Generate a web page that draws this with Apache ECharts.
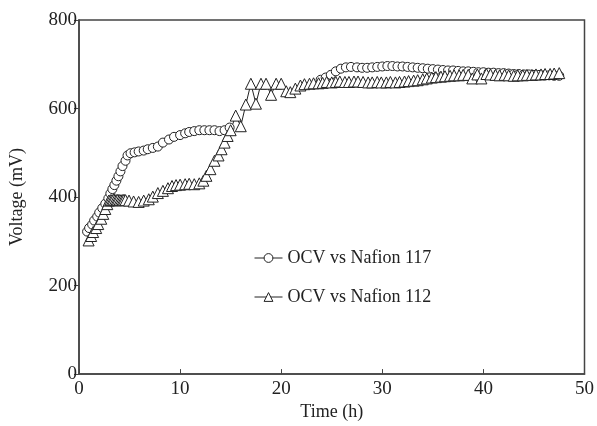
<!DOCTYPE html>
<html>
<head>
<meta charset="utf-8">
<script src="https://cdn.jsdelivr.net/npm/echarts@6/dist/echarts.min.js"></script>
<style>
  html, body { margin: 0; padding: 0; background: #fff; }
  #chart { width: 597px; height: 426px; }
</style>
</head>
<body>
<div id="chart"></div>
<script>
// OCV vs Nafion 117 (circles), null = gap in the measurement
var n117Time = [0.8, 1.0, 1.3, 1.5, 1.8, 2.0, 2.3, 2.6, 2.9, 3.1, 3.3, 3.5, 3.7, 3.9, 4.1, 4.3, 4.6, 4.8,
    5.1, 5.5, 5.9, 6.4, 6.8, 7.3, 7.8, 8.3, 8.9, 9.4, 10.0, 10.5, 10.9, 11.4, 11.9, 12.4, 12.9, 13.4, 13.9,
    14.4, 14.9, 19.0, 23.9, 24.4, 24.9, 25.4, 25.9, 26.4, 26.9, 27.5, 28.0, 28.5, 29.0, 29.5, 30.0, 30.5,
    31.0, 31.5, 32.0, 32.5, 33.0, 33.5, 34.0, 34.5, 35.0, 35.5, 36.0, 36.5, 37.0, 37.5, 38.0, 38.5, 39.0,
    39.5, 40.0, 40.5, 41.0, 41.5, 42.0, 42.5, 43.0, 43.5, 44.0, 44.5, 45.0, 45.5, 46.0, 46.5, 47.0, 47.5];
var n117Volt = [322, 330, 338, 347, 356, 365, 375, 385, 397, 408, 418, 427, 437, 447, 458, 470, 482, 494,
    499, 501, 503, 505, 508, 511, 514, 523, 530, 536, 540, 544, 547, 549, 551, 551, 551, 551, 549,
    551, 557, null, 665, 670, 676, 684, 690, 693, 694, 693, 692, 692, 693, 694, 695, 696,
    696, 695, 695, 694, 693, 692, 691, 690, 689, 688, 687, 686, 686, 685, 684, 684, 683,
    682, 682, 681, 681, 680, 680, 679, 678, 678, 677, 677, 676, 676, 675, 675, 674, 674];

// OCV vs Nafion 112 (triangles)
var n112Time = [0.95, 1.2, 1.4, 1.7, 1.9, 2.2, 2.4, 2.6, 2.8, 2.95, 3.1, 3.25, 3.4, 3.55, 3.7, 3.85, 4.0,
    4.15, 4.3, 4.45, 4.6, 4.95, 5.4, 5.9, 6.4, 6.9, 7.3, 7.8, 8.3, 8.8, 9.2, 9.6, 10.0, 10.5, 10.9, 11.4,
    11.9, 12.3, 12.6, 13.0, 13.4, 13.8, 14.1, 14.4, 14.7, 15.0, 15.5, 16.0, 16.5, 17.0, 17.5, 18.0, 18.5,
    19.0, 19.5, 20.0, 20.5, 20.9, 21.4, 21.9, 22.3, 22.8, 23.2, 23.7, 24.1, 24.5, 25.0, 25.4, 25.8, 26.3,
    26.7, 27.2, 27.6, 28.1, 28.6, 29.0, 29.5, 29.9, 30.4, 30.8, 31.3, 31.7, 32.2, 32.6, 33.1, 33.5, 34.0,
    34.4, 34.9, 35.3, 35.8, 36.2, 36.7, 37.1, 37.6, 38.0, 38.5, 38.9, 39.4, 39.8, 40.3, 40.7, 41.2, 41.6,
    42.1, 42.5, 43.0, 43.4, 43.9, 44.3, 44.8, 45.2, 45.7, 46.1, 46.6, 47.0, 47.5];
var n112Volt = [302, 312, 321, 330, 339, 351, 362, 373, 384, 392, 393, 393, 394, 393, 393, 394, 393,
    393, 393, 394, 393, 392, 390, 389, 392, 395, 401, 409, 414, 420, 425, 427, 428, 429, 430, 429,
    431, 437, 448, 463, 482, 494, 508, 523, 538, 551, 584, 560, 609, 656, 611, 656, 656,
    631, 656, 656, 639, 637, 645, 652, 655, 656, 657, 657, 658, 660, 659, 660, 661, 660,
    660, 661, 661, 660, 659, 659, 660, 659, 659, 660, 659, 660, 661, 662, 663, 664, 666,
    668, 670, 671, 672, 673, 674, 675, 675, 676, 676, 668, 677, 668, 678, 677, 676, 675,
    676, 675, 674, 675, 675, 676, 676, 677, 677, 678, 678, 679, 680];

var xTicks = [0, 10, 20, 30, 40, 50];
var yTicks = [0, 200, 400, 600, 800];

function zip(xs, ys) {
    return xs.map(function (x, i) { return [x, ys[i]]; });
}

var font = 'Liberation Serif';
var ink = '#222';

var option = {
    animation: false,
    backgroundColor: '#fff',
    grid: {
        left: 77, right: 11, top: 20, bottom: 50,
        show: true, borderColor: '#444', borderWidth: 1.5
    },
    legend: {
        orient: 'vertical',
        left: 249, top: 244,
        itemWidth: 28, itemHeight: 11, itemGap: 21,
        itemStyle: { borderWidth: 1 },
        lineStyle: { width: 1 },
        textStyle: { fontFamily: font, fontSize: 18, color: ink },
        data: ['OCV vs Nafion 117', 'OCV vs Nafion 112']
    },
    xAxis: {
        type: 'value',
        min: xTicks[0], max: xTicks[xTicks.length - 1], interval: 10,
        name: 'Time (h)', nameLocation: 'middle', nameGap: 28,
        nameTextStyle: { fontFamily: font, fontSize: 18, color: ink },
        axisLine: { lineStyle: { color: '#444', width: 1.5 } },
        axisTick: { inside: true, length: 5, lineStyle: { color: '#444' } },
        axisLabel: { fontFamily: font, fontSize: 19, color: ink, margin: 5 },
        splitLine: { show: false }
    },
    yAxis: {
        type: 'value',
        min: yTicks[0], max: yTicks[yTicks.length - 1], interval: 200,
        name: 'Voltage (mV)', nameLocation: 'middle', nameGap: 53,
        nameTextStyle: { fontFamily: font, fontSize: 18, color: ink },
        axisLine: { show: true, lineStyle: { color: '#444', width: 1.5 } },
        axisTick: { show: true, inside: false, length: 5, lineStyle: { color: '#444' } },
        axisLabel: { fontFamily: font, fontSize: 19, color: ink, margin: 2 },
        splitLine: { show: false }
    },
    series: [
        {
            name: 'OCV vs Nafion 117',
            type: 'line',
            data: zip(n117Time, n117Volt),
            connectNulls: false,
            symbol: 'circle', symbolSize: 9,
            showAllSymbol: true,
            lineStyle: { color: ink, width: 1 },
            itemStyle: { color: '#fff', borderColor: ink, borderWidth: 1 }
        },
        {
            name: 'OCV vs Nafion 112',
            type: 'line',
            data: zip(n112Time, n112Volt),
            symbol: 'triangle', symbolSize: 11,
            showAllSymbol: true,
            lineStyle: { color: ink, width: 1 },
            itemStyle: { color: '#fff', borderColor: ink, borderWidth: 1 }
        }
    ]
};

var myChart = echarts.init(document.getElementById('chart'));
myChart.setOption(option, true);
</script>
</body>
</html>
